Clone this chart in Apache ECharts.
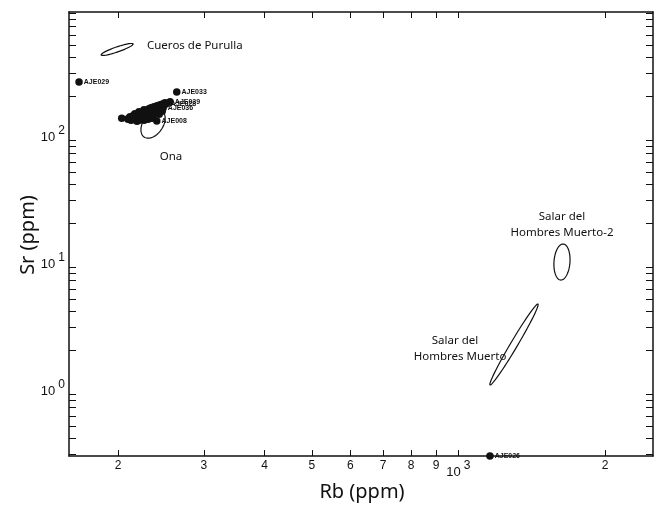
<!DOCTYPE html>
<html>
<head>
<meta charset="utf-8">
<script src="https://cdn.jsdelivr.net/npm/echarts@6/dist/echarts.min.js"></script>
<style>
  html, body { margin: 0; padding: 0; background: #fff; }
  #chart { width: 656px; height: 508px; }
</style>
</head>
<body>
<div id="chart"></div>
<script>
// Rb / Sr log-log plot

// axis ranges
const rbMin = 158.6, rbMax = 2510;
const srMin = 0.2917, srMax = 913;

// tick positions and labels
const xTickValues = [200, 300, 400, 500, 600, 700, 800, 900, 1000, 2000];
const xTickLabels = ['2', '3', '4', '5', '6', '7', '8', '9', '{b|10}{s|3}', '2'];
const yTickValues = [1, 10, 100];
const yTickLabels = ['{b|10}{s|0}', '{b|10}{s|1}', '{b|10}{s|2}'];
const yMinorTicks = [0.3, 0.4, 0.5, 0.6, 0.7, 0.8, 0.9,
  2, 3, 4, 5, 6, 7, 8, 9,
  20, 30, 40, 50, 60, 70, 80, 90,
  200, 300, 400, 500, 600, 700, 800, 900];

// labelled samples
const sampleNames = ['AJE029', 'AJE033', 'AJE039', 'AJE028', 'AJE036', 'AJE008', 'AJE011', 'AJE026'];
const sampleRb = [166.3, 264, 255.8, 251.0, 247.5, 240.2, 203.5, 1161];
const sampleSr = [257, 214, 179.6, 172.4, 160.3, 126.6, 133, 0.292];

// unlabelled samples of the main group
const groupRb = [209.7, 211.7, 212.7, 214.7, 215.7, 216.7, 217.8, 218.8, 219.8, 220.9,
  221.9, 223.0, 224.0, 225.1, 226.2, 227.2, 228.3, 229.4, 230.5, 231.6,
  232.7, 233.8, 234.9, 236.0, 237.1, 238.3, 239.4, 240.5, 241.7, 244.0,
  245.1, 247.5, 249.8, 246.3, 242.8, 230.5, 234.9, 226.2, 220.9];
const groupSr = [131.3, 136.1, 128.9, 138.6, 131.3, 143.7, 133.7, 126.6, 141.1, 149.1,
  136.1, 131.3, 146.4, 141.1, 154.6, 136.1, 146.4, 151.8, 141.1, 157.4,
  146.4, 160.3, 151.8, 138.6, 163.2, 154.6, 146.4, 166.2, 157.4, 169.3,
  160.3, 172.4, 175.5, 151.8, 143.7, 131.3, 133.7, 128.9, 128.9];

// source ellipses: centre, end of first semi-axis, end of second semi-axis (Rb, Sr)
const ellipseNames = ['Cueros de Purulla', 'Ona', 'Salar del Hombres Muerto', 'Salar del Hombres Muerto-2'];
const ellipseCentre = [[199.1, 462.9], [236.0, 119.9], [1300.8, 2.201], [1632, 9.82]];
const ellipseAxisA = [[214.7, 511.3], [246.2, 151.8], [1457, 4.586], [1640, 13.61]];
const ellipseAxisB = [[199.8, 443.1], [245.3, 108.1], [1319.4, 2.130], [1695, 9.82]];

const ink = '#111';
const tickFont = 'Liberation Sans';
const noteFont = '11.5px "Noto Sans"';

function labelFor(values, labels) {
  return function (v) {
    for (let i = 0; i < values.length; i++) {
      if (Math.abs(Math.log10(v / values[i])) < 1e-6) return labels[i];
    }
    return '';
  };
}

const richSup = {
  b: { fontSize: 13, fontFamily: tickFont, color: ink, lineHeight: 19, verticalAlign: 'bottom' },
  s: { fontSize: 12, fontFamily: tickFont, color: ink, lineHeight: 13, verticalAlign: 'top', padding: [0, 0, 0, 3] }
};

const chart = echarts.init(document.getElementById('chart'));

const axisLine = { show: true, lineStyle: { color: ink, width: 1.5 } };

const option = {
  backgroundColor: '#fff',
  animation: false,
  grid: { left: 69, right: 3, top: 12, bottom: 52, containLabel: false },
  xAxis: [{
    type: 'log', min: rbMin, max: rbMax, position: 'bottom',
    axisLine: axisLine,
    splitLine: { show: false },
    axisTick: { inside: true, length: 6, customValues: xTickValues, lineStyle: { color: ink, width: 1 } },
    axisLabel: {
      customValues: xTickValues, margin: 4, fontSize: 12, fontFamily: tickFont, color: ink,
      formatter: labelFor(xTickValues, xTickLabels), rich: richSup
    }
  }, {
    type: 'log', min: rbMin, max: rbMax, position: 'top',
    axisLine: axisLine,
    splitLine: { show: false },
    axisTick: { inside: true, length: 6, customValues: xTickValues, lineStyle: { color: ink, width: 1 } },
    axisLabel: { show: false }
  }],
  yAxis: [{
    type: 'log', min: srMin, max: srMax, position: 'left',
    axisLine: axisLine,
    splitLine: { show: false },
    axisTick: { inside: true, length: 7, customValues: yMinorTicks, lineStyle: { color: ink, width: 1 } },
    axisLabel: {
      customValues: yTickValues, margin: 4, fontSize: 13, fontFamily: tickFont, color: ink,
      formatter: labelFor(yTickValues, yTickLabels), rich: richSup
    }
  }, {
    type: 'log', min: srMin, max: srMax, position: 'right',
    axisLine: axisLine,
    splitLine: { show: false },
    axisTick: { inside: true, length: 7, customValues: yMinorTicks, lineStyle: { color: ink, width: 1 } },
    axisLabel: { show: false }
  }],
  series: [{
    name: 'ellipses',
    type: 'custom',
    z: 2,
    clip: false,
    data: ellipseNames.map((n, i) => ({
      name: n,
      value: [ellipseCentre[i][0], ellipseCentre[i][1], ellipseAxisA[i][0], ellipseAxisA[i][1], ellipseAxisB[i][0], ellipseAxisB[i][1]]
    })),
    renderItem: function (params, api) {
      const c = api.coord([api.value(0), api.value(1)]);
      const a = api.coord([api.value(2), api.value(3)]);
      const b = api.coord([api.value(4), api.value(5)]);
      const ux = a[0] - c[0], uy = a[1] - c[1];
      const vx = b[0] - c[0], vy = b[1] - c[1];
      const pts = [];
      for (let k = 0; k < 72; k++) {
        const t = k / 72 * Math.PI * 2;
        pts.push([c[0] + ux * Math.cos(t) + vx * Math.sin(t), c[1] + uy * Math.cos(t) + vy * Math.sin(t)]);
      }
      return { type: 'polygon', shape: { points: pts }, style: { fill: 'none', stroke: ink, lineWidth: 1.2 } };
    }
  }, {
    name: 'labelled',
    type: 'scatter',
    z: 3,
    symbolSize: 7.5,
    itemStyle: { color: ink, opacity: 1 },
    label: {
      show: true, position: 'right', distance: 1, formatter: '{b}',
      fontSize: 7, fontWeight: 'bold', fontFamily: tickFont, color: ink
    },
    data: sampleNames.map((n, i) => ({ name: n, value: [sampleRb[i], sampleSr[i]] }))
  }, {
    name: 'group',
    type: 'scatter',
    z: 4,
    symbolSize: 8,
    itemStyle: { color: ink, opacity: 1 },
    data: groupRb.map((r, i) => [r, groupSr[i]])
  }],
  graphic: [
    { type: 'text', left: 147, top: 40, style: { text: 'Cueros de Purulla', font: noteFont, fill: ink } },
    { type: 'text', x: 171, y: 157, style: { text: 'Ona', font: noteFont, fill: ink, align: 'center', verticalAlign: 'middle' } },
    { type: 'text', x: 562, y: 217, style: { text: 'Salar del', font: noteFont, fill: ink, align: 'center', verticalAlign: 'middle' } },
    { type: 'text', x: 562, y: 233, style: { text: 'Hombres Muerto-2', font: noteFont, fill: ink, align: 'center', verticalAlign: 'middle' } },
    { type: 'text', x: 455, y: 341, style: { text: 'Salar del', font: noteFont, fill: ink, align: 'center', verticalAlign: 'middle' } },
    { type: 'text', x: 460, y: 357, style: { text: 'Hombres Muerto', font: noteFont, fill: ink, align: 'center', verticalAlign: 'middle' } },
    { type: 'text', x: 362, y: 492, style: { text: 'Rb (ppm)', font: '20px "Noto Sans"', fill: ink, align: 'center', verticalAlign: 'middle' } },
    { type: 'text', x: 28, y: 235, rotation: Math.PI / 2, style: { text: 'Sr (ppm)', font: '20px "Noto Sans"', fill: ink, align: 'center', verticalAlign: 'middle' } }
  ]
};

chart.setOption(option);
</script>
</body>
</html>
